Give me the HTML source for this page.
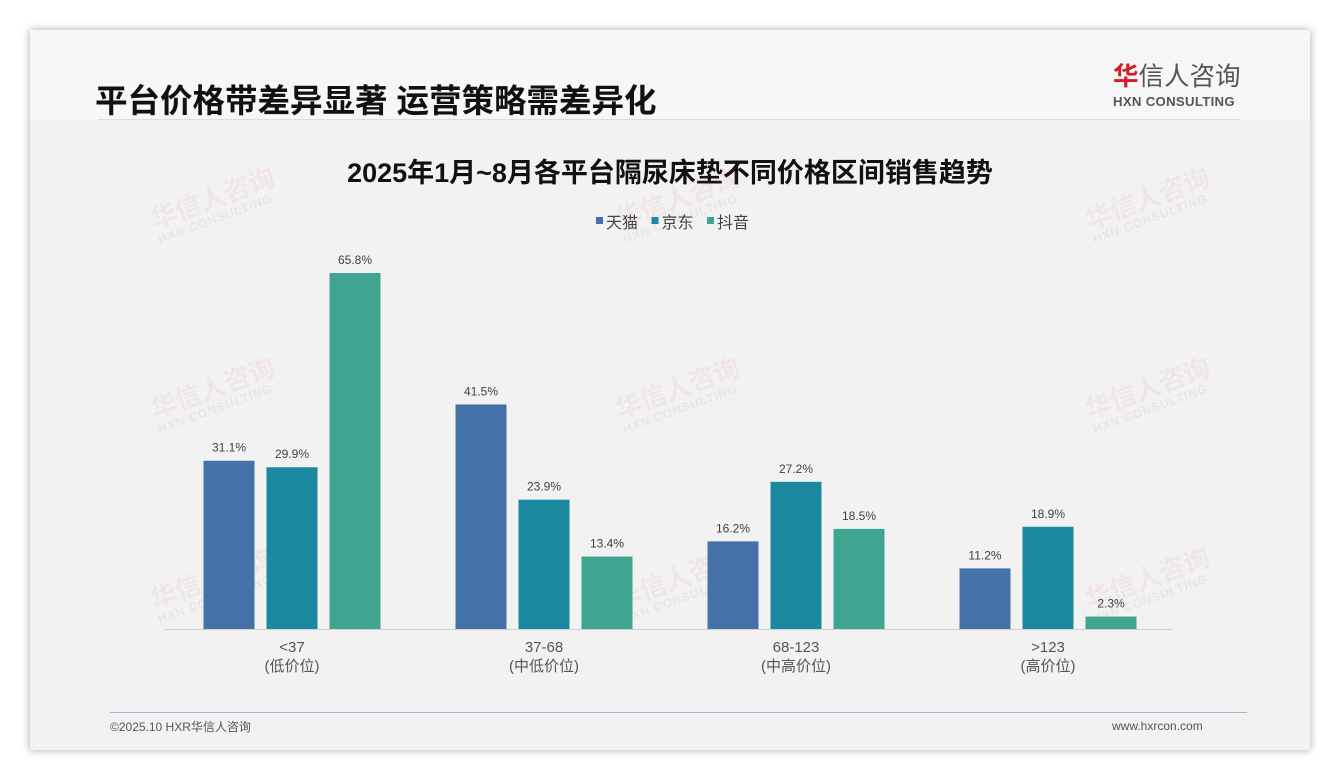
<!DOCTYPE html>
<html><head><meta charset="utf-8">
<style>
body{margin:0;width:1340px;height:780px;background:#fff;overflow:hidden;font-family:"Liberation Sans","Noto Sans CJK SC",sans-serif;}
#card{position:absolute;left:30px;top:30px;width:1280px;height:720px;background:#f2f2f2;box-shadow:0 0 8px rgba(0,0,0,0.35);}
#hdr{position:absolute;left:0;top:0;width:1280px;height:90px;background:#f7f7f7;}
.t{position:absolute;white-space:nowrap;}
.wm{position:absolute;transform:rotate(-20deg);color:rgba(220,80,80,0.07);font-weight:bold;font-size:26px;line-height:26px;}
.wm span{display:block;font-size:12px;line-height:14px;color:rgba(150,150,150,0.12);letter-spacing:1px}
</style></head><body>
<div id="card">
<div id="hdr"></div>
<div class="t" style="left:65px;top:45px;font-size:32.5px;font-weight:bold;color:#111;">平台价格带差异显著 运营策略需差异化</div>
<div style="position:absolute;left:68px;top:89px;width:1142px;height:1px;background:#ddd"></div>
<div class="t" style="left:1083px;top:33px;font-size:25.5px;color:#555;line-height:28px;"><span style="color:#d21f26;font-weight:bold">华</span>信人咨询</div>
<div class="t" style="left:1083px;top:64px;font-size:13.2px;font-weight:bold;color:#555;letter-spacing:0.3px">HXN CONSULTING</div>
<div class="t" style="left:0;width:1280px;text-align:center;top:121px;font-size:27px;font-weight:bold;color:#111;">2025年1月~8月各平台隔尿床垫不同价格区间销售趋势</div>
<div style="position:absolute;left:80px;top:682px;width:1137px;height:1px;background:#9fb7d6"></div>
<div class="t" style="left:80px;top:688px;font-size:12px;color:#555">©2025.10 HXR华信人咨询</div>
<div class="t" style="left:1082px;top:689px;font-size:12px;color:#555">www.hxrcon.com</div>
</div>
<div id="wms"></div>
<svg id="chart" width="1340" height="780" style="position:absolute;left:0;top:0"></svg>
<script>
const categories=["<37","37-68","68-123",">123"];
const subLabels=["(低价位)","(中低价位)","(中高价位)","(高价位)"];
const seriesNames=["天猫","京东","抖音"];
const tmall=[31.1,41.5,16.2,11.2];
const jd=[29.9,23.9,27.2,18.9];
const douyin=[65.8,13.4,18.5,2.3];
const series=[tmall,jd,douyin];
const colors=["#4472a8","#1a889f","#40a590"];
const NS="http://www.w3.org/2000/svg";
const svg=document.getElementById('chart');
const baseY=629, pxPer=5.41, x0=292, step=252, off=63, bw=51;
const yS=v=>baseY-v*pxPer;
const xS=(i,s)=>x0+i*step+(s-1)*off;
function mk(tag,attrs,txt){const e=document.createElementNS(NS,tag);for(const k in attrs)e.setAttribute(k,attrs[k]);if(txt!==undefined)e.textContent=txt;svg.appendChild(e);return e;}
const wmPos=[[150,185],[615,185],[1085,185],[150,375],[615,375],[1085,375],[150,565],[615,565],[1085,565]];
const wms=document.getElementById('wms');
wmPos.forEach(p=>{const d=document.createElement('div');d.className='wm';d.style.left=p[0]+'px';d.style.top=p[1]+'px';d.innerHTML='华信人咨询<span>HXN CONSULTING</span>';


wms.appendChild(d);});
let lx=596;
seriesNames.forEach((n,s)=>{
const r=mk('rect',{x:lx,y:217,width:7,height:7,fill:colors[s]});


const t=mk('text',{x:lx+10,y:228,'font-size':16,fill:'#444','font-family':'Liberation Sans, Noto Sans CJK SC, sans-serif'},n);


lx+=55.5;});
const ax=mk('line',{x1:165,x2:1173,y1:baseY+0.5,y2:baseY+0.5,stroke:'#d0d0d0','stroke-width':1});


series.forEach((vals,s)=>vals.forEach((v,i)=>{
const cx=xS(i,s);
const r=mk('rect',{x:cx-bw/2,y:yS(v),width:bw,height:v*pxPer,fill:colors[s]});


const t=mk('text',{x:cx,y:yS(v)-9,'text-anchor':'middle','font-size':12,fill:'#404040','font-family':'Liberation Sans, sans-serif'},v.toFixed(1)+'%');


}));
categories.forEach((c,i)=>{
const t=mk('text',{x:x0+i*step,y:652,'text-anchor':'middle','font-size':15,fill:'#555','font-family':'Liberation Sans, Noto Sans CJK SC, sans-serif'},c);


const t2=mk('text',{x:x0+i*step,y:671,'text-anchor':'middle','font-size':15,fill:'#555','font-family':'Liberation Sans, Noto Sans CJK SC, sans-serif'},subLabels[i]);


});
</script>
</body></html>
